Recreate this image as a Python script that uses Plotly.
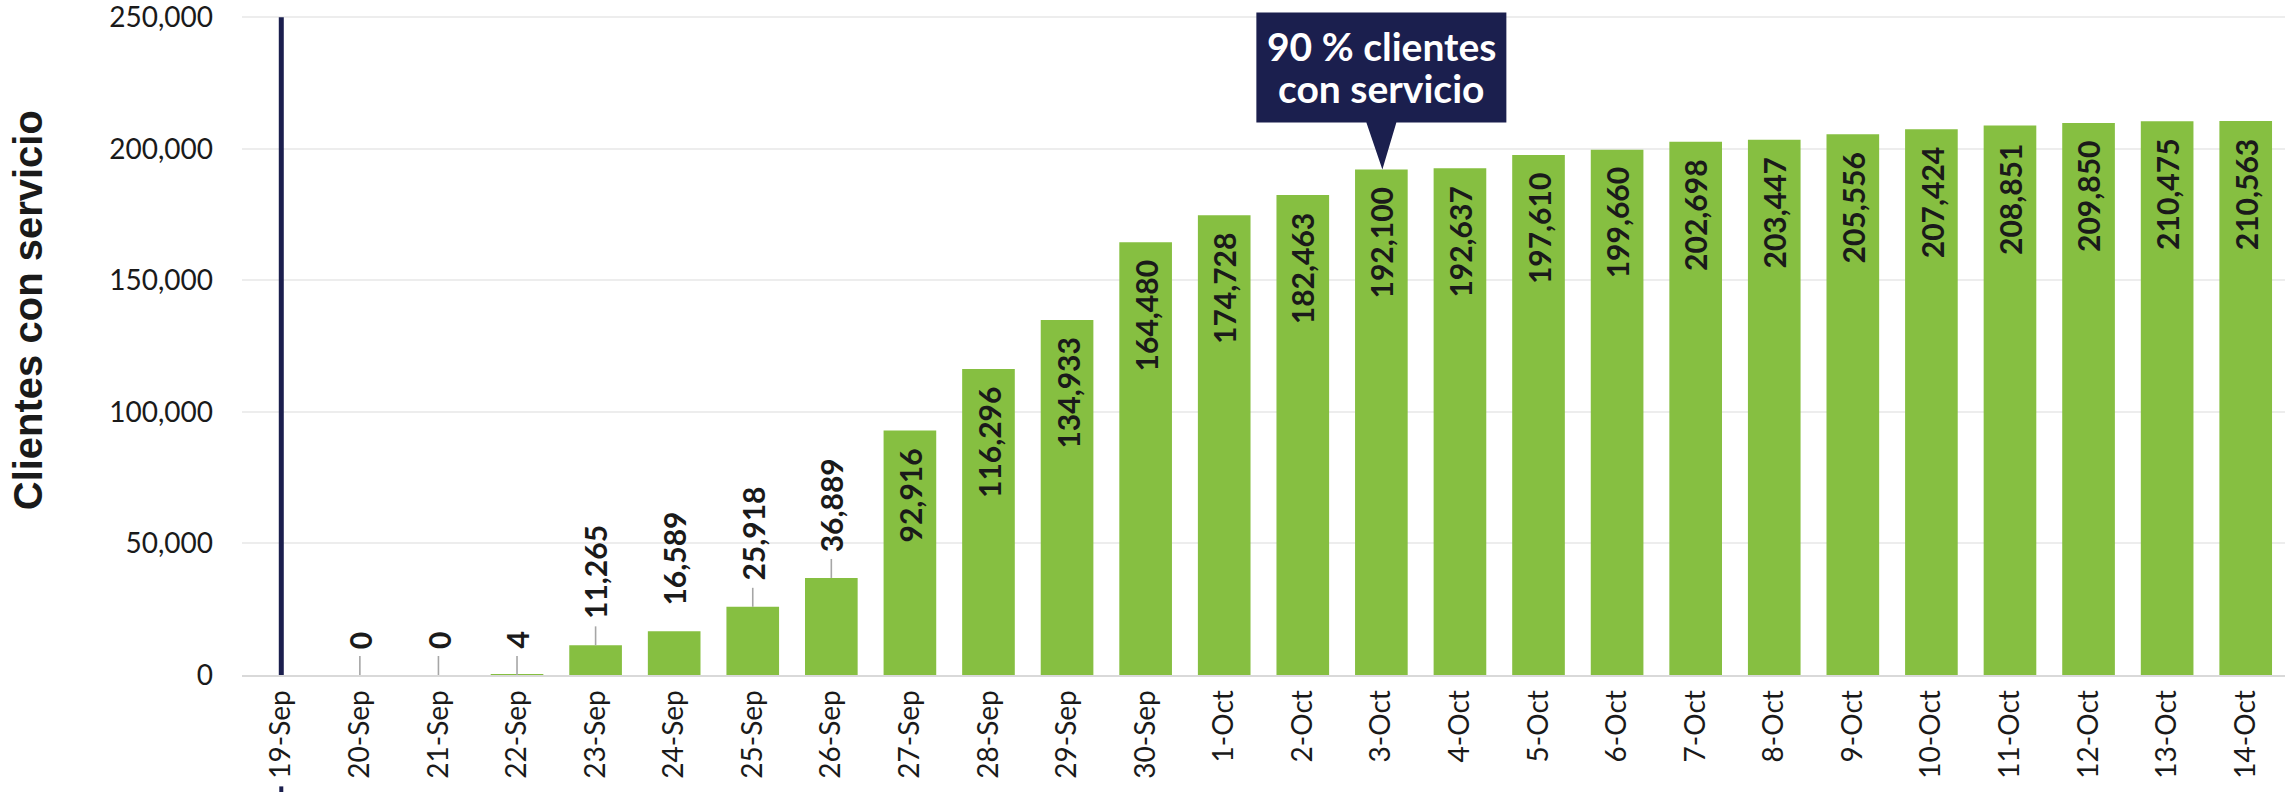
import plotly.graph_objects as go

# ---------------- data ----------------
dates = ["19-Sep", "20-Sep", "21-Sep", "22-Sep", "23-Sep", "24-Sep", "25-Sep", "26-Sep",
         "27-Sep", "28-Sep", "29-Sep", "30-Sep", "1-Oct", "2-Oct", "3-Oct", "4-Oct",
         "5-Oct", "6-Oct", "7-Oct", "8-Oct", "9-Oct", "10-Oct", "11-Oct", "12-Oct",
         "13-Oct", "14-Oct"]
clients = [None, 0, 0, 4, 11265, 16589, 25918, 36889,
           92916, 116296, 134933, 164480, 174728, 182463, 192100, 192637,
           197610, 199660, 202698, 203447, 205556, 207424, 208851, 209850,
           210475, 210563]
# labels drawn above the bar (small values) and whether a leader line is drawn
label_outside = [False, True, True, True, True, True, True, True] + [False] * 18
label_leader = [False, True, True, True, True, False, True, True] + [False] * 18

event_date = "19-Sep"
callout_date = "3-Oct"
callout_lines = ["90 % clientes", "con servicio"]
y_title = "Clientes con servicio"
y_max = 250000
y_step = 50000

GREEN = "#86BF41"
NAVY = "#1B1F4E"
TXT = "#1a1a1a"
LABEL_FONT = dict(family="Lato", size=30, color=TXT, weight=700)

fig = go.Figure()
fig.add_trace(go.Bar(
    x=dates, y=clients,
    marker=dict(color=GREEN, line=dict(width=0)),
    width=0.67,
    hoverinfo="x+y",
))

annotations = []
shapes = []
for d, v, out, lead in zip(dates, clients, label_outside, label_leader):
    if v is None:
        continue
    txt = f"{v:,}"
    if out:
        annotations.append(dict(
            x=d, y=v, xref="x", yref="y", text=txt, textangle=-90,
            showarrow=False, yshift=24, xanchor="center", yanchor="bottom",
            font=LABEL_FONT,
        ))
        if lead:
            shapes.append(dict(
                type="line", xref="x", yref="y", ysizemode="pixel", yanchor=v,
                x0=d, x1=d, y0=0, y1=19,
                line=dict(color="#A6A6A6", width=1.6),
            ))
    else:
        annotations.append(dict(
            x=d, y=v, xref="x", yref="y", text=txt, textangle=-90,
            showarrow=False, yshift=-16, xanchor="center", yanchor="top",
            font=LABEL_FONT,
        ))

# callout box with pointer (pixel offsets relative to the bar top)
cidx = dates.index(callout_date)
cval = clients[cidx]
shapes.append(dict(
    type="path", xref="x", yref="y", xsizemode="pixel", ysizemode="pixel",
    xanchor=callout_date, yanchor=cval,
    path="M -125,157 L 125,157 L 125,47 L 15,47 L 1,0 L -15,47 L -125,47 Z",
    fillcolor=NAVY, line=dict(width=0), layer="above",
))
for line_text, shift in zip(callout_lines, [124, 82]):
    annotations.append(dict(
        x=callout_date, y=cval, xref="x", yref="y", text=line_text,
        showarrow=False, yshift=shift, xanchor="center", yanchor="middle",
        font=dict(family="Lato", size=39, color="white", weight=700),
    ))

# y-axis title
annotations.append(dict(
    xref="paper", yref="paper", x=-0.1048, y=0.55, text=y_title, textangle=-90,
    showarrow=False, xanchor="center", yanchor="middle",
    font=dict(family="Liberation Sans", size=40, color=TXT, weight=700),
))

# event marker line
shapes.append(dict(type="line", xref="x", yref="y", x0=event_date, x1=event_date,
                   y0=0, y1=y_max, line=dict(color=NAVY, width=5), layer="above"))
shapes.append(dict(type="line", xref="x", yref="paper", x0=event_date, x1=event_date,
                   y0=-0.168, y1=-0.2, line=dict(color=NAVY, width=4)))

fig.update_layout(
    width=2285, height=792,
    margin=dict(l=242, r=0, t=12, b=117, autoexpand=False),
    plot_bgcolor="white", paper_bgcolor="white",
    showlegend=False,
    annotations=annotations,
    shapes=shapes,
    font=dict(family="Lato", color=TXT),
)
fig.update_xaxes(
    type="category", categoryorder="array", categoryarray=dates,
    range=[-0.5, len(dates) - 0.5], automargin=False,
    tickangle=-90, tickfont=dict(family="Lato", size=28, color=TXT),
    showline=True, linecolor="#D9D9D9", linewidth=2,
    showgrid=False, ticks="", ticklabelstandoff=2,
)
fig.update_yaxes(
    range=[0, 252000], tick0=0, dtick=y_step, tickformat=",", automargin=False,
    tickfont=dict(family="Lato", size=28, color=TXT), ticklabeloverflow="allow",
    showgrid=True, gridcolor="#EDEDED", gridwidth=1.5,
    zeroline=False, showline=False, ticks="", ticklabelstandoff=28,
)

fig.write_html("out.html", config={"displayModeBar": False},
               post_script="document.body.style.margin='0';")
